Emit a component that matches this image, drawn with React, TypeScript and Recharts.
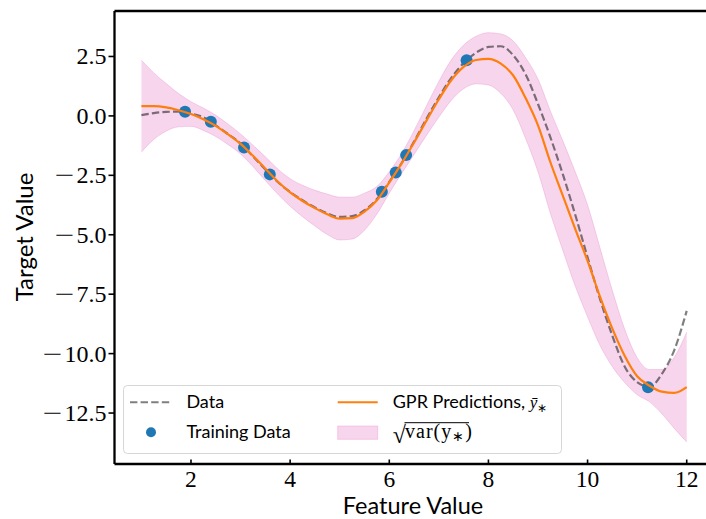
import React from "react";
import { ComposedChart, XAxis, YAxis, Area, Line, Scatter, Legend, ReferenceLine } from "recharts";

// sample grid for the curves
const featureX = [
  1, 1.25, 1.5, 1.75, 2, 2.25, 2.5, 2.75, 3, 3.25, 3.5, 3.75, 4, 4.25, 4.5,
  4.75, 5, 5.25, 5.5, 5.75, 6, 6.25, 6.5, 6.75, 7, 7.25, 7.5, 7.75, 8, 8.25,
  8.5, 8.75, 9, 9.25, 9.5, 9.75, 10, 10.25, 10.5, 10.75, 11, 11.25, 11.5,
  11.75, 12,
];

// underlying function ("Data")
const dataCurve = [
  0.03, 0.12, 0.17, 0.18, 0.1, -0.06, -0.4, -0.77, -1.16, -1.7, -2.25, -2.78,
  -3.2, -3.55, -3.85, -4.1, -4.25, -4.22, -3.97, -3.5, -2.78, -1.98, -1.08,
  -0.12, 0.78, 1.6, 2.22, 2.66, 2.9, 2.93, 2.55, 1.75, 0.5, -0.9, -2.45, -4.15,
  -5.95, -7.7, -9.25, -10.55, -11.2, -11.4, -10.85, -9.85, -8.2,
];

// GPR posterior mean
const gprMean = [
  0.41, 0.41, 0.36, 0.24, 0.08, -0.14, -0.42, -0.78, -1.18, -1.68, -2.22,
  -2.76, -3.22, -3.58, -3.88, -4.14, -4.32, -4.3, -4.03, -3.55, -2.8, -2.0,
  -1.12, -0.2, 0.7, 1.5, 2.06, 2.35, 2.4, 2.2, 1.7, 0.75, -0.4, -1.95, -3.35,
  -4.75, -6.1, -7.6, -8.95, -10.1, -10.95, -11.35, -11.6, -11.65, -11.41,
];

// half width of the shaded band
const gprStd = [
  1.93, 1.4, 1.0, 0.7, 0.52, 0.47, 0.45, 0.43, 0.42, 0.45, 0.5, 0.53, 0.58,
  0.66, 0.75, 0.85, 0.9, 0.88, 0.78, 0.58, 0.45, 0.42, 0.5, 0.62, 0.75, 0.85,
  0.92, 1.0, 1.1, 1.25, 1.45, 1.7, 1.95, 2.15, 2.3, 2.4, 2.35, 2.05, 1.6, 1.12,
  0.78, 0.68, 0.93, 1.5, 2.31,
];

const trainX = [1.88, 2.4, 3.07, 3.59, 5.85, 6.13, 6.34, 7.56, 11.22];
const trainY = [0.17, -0.25, -1.33, -2.46, -3.19, -2.38, -1.65, 2.34, -11.42];

const xTicks = [2, 4, 6, 8, 10, 12];
const yTicks = [-12.5, -10, -7.5, -5, -2.5, 0, 2.5];

const rows = featureX.map((x, i) => ({
  x,
  data: dataCurve[i],
  mean: gprMean[i],
  band: [gprMean[i] - gprStd[i], gprMean[i] + gprStd[i]],
}));

const training = trainX.map((x, i) => ({ x, y: trainY[i] }));

const X_DOMAIN = [0.457, 12.389];
const Y_DOMAIN = [-14.644, 4.413];

const BLUE = "#1f77b4";
const ORANGE = "#ff7f0e";
const PINK = "#e377c2";
const SERIF = "'Liberation Serif', serif";
const SANS = "Lato, 'DejaVu Sans', sans-serif";

const YTick = (props: any) => {
  const { x, y, payload } = props;
  const v: number = payload.value;
  const body = Math.abs(v).toFixed(1);
  const bodyW = (body.length - 1) * 12 + 6;
  return (
    <g>
      <text x={x} y={y + 8} textAnchor="end" fontFamily={SERIF} fontSize={24} fill="#000">
        {body}
      </text>
      {v < 0 && (
        <text
          transform={`translate(${x - bodyW - 2},${y + 8}) scale(1.45,1)`}
          textAnchor="end"
          fontFamily={SERIF}
          fontSize={24}
          fill="#000"
        >
          −
        </text>
      )}
    </g>
  );
};

const XTick = (props: any) => {
  const { x, y, payload } = props;
  return (
    <g>
      <line x1={x} x2={x} y1={y} y2={y - 4.5} stroke="#000" strokeWidth={1.6} />
      <text x={x} y={y + 22.5} textAnchor="middle" fontFamily={SERIF} fontSize={23.5} fill="#000">
        {payload.value}
      </text>
    </g>
  );
};

const LegendBox = () => (
  <svg width={440} height={70} style={{ display: "block" }}>
    <rect x={0.5} y={0.5} width={438} height={68} rx={4} fill="#fff" fillOpacity={0.8} stroke="#d6d6d6" />
    {/* Data */}
    <line x1={7} x2={47} y1={17.3} y2={17.3} stroke="#000" strokeOpacity={0.5} strokeWidth={2} strokeDasharray="7.4 3.2" />
    <text x={63.4} y={22.8} fontFamily={SANS} fontSize={18} fill="#000">Data</text>
    {/* Training Data */}
    <circle cx={28} cy={47.3} r={5} fill={BLUE} />
    <text x={63.4} y={52.8} fontFamily={SANS} fontSize={18} fill="#000">Training Data</text>
    {/* GPR mean */}
    <line x1={214.7} x2={254.7} y1={17.3} y2={17.3} stroke={ORANGE} strokeWidth={2} />
    <text x={269.7} y={22.8} fontFamily={SANS} fontSize={18} fill="#000">
      GPR Predictions,{" "}
      <tspan fontFamily={SERIF} fontStyle="italic" fontSize={17}>ȳ</tspan>
      <tspan fontFamily={SERIF} fontSize={12} dy={4}>∗</tspan>
    </text>
    {/* band */}
    <rect x={214.7} y={41} width={40} height={13.3} fill={PINK} fillOpacity={0.3} stroke={PINK} strokeOpacity={0.3} />
    <text x={269.7} y={58} fontFamily={SERIF} fontSize={24} fill="#000">√</text>
    <line x1={281.5} x2={346} y1={37.7} y2={37.7} stroke="#000" strokeWidth={1} />
    <text x={282} y={53} fontFamily={SERIF} fontSize={20} letterSpacing={1} fill="#000">
      var(y<tspan fontSize={14} dy={3}>∗</tspan>
      <tspan dy={-3}>)</tspan>
    </text>
  </svg>
);

export default function App() {
  return (
    <div style={{ position: "absolute", left: 0, top: 0, width: 706, height: 519, background: "#fff", overflow: "hidden" }}>
      <ComposedChart width={706} height={519} data={rows} margin={{ top: 11, right: 0, bottom: 0, left: 0 }}>
        <XAxis
          dataKey="x"
          type="number"
          domain={X_DOMAIN}
          allowDataOverflow
          ticks={xTicks}
          height={55}
          tickSize={0}
          tickMargin={0}
          tickLine={false}
          tick={(p: any) => <XTick {...p} />}
          axisLine={{ stroke: "#000", strokeWidth: 2.3 }}
          label={{
            value: "Feature Value",
            content: () => (
              <text x={413} y={513.5} textAnchor="middle" fontFamily={SANS} fontSize={23.5} fill="#000">
                Feature Value
              </text>
            ),
          }}
        />
        <YAxis
          type="number"
          domain={Y_DOMAIN}
          allowDataOverflow
          ticks={yTicks}
          width={114.5}
          tickSize={6}
          tickMargin={2}
          tickLine={{ stroke: "#000", strokeWidth: 1.6 }}
          tick={(p: any) => <YTick {...p} />}
          axisLine={{ stroke: "#000", strokeWidth: 2.3 }}
          label={{
            value: "Target Value",
            content: () => (
              <text transform="translate(33,237) rotate(-90)" textAnchor="middle" fontFamily={SANS} fontSize={24} fill="#000">
                Target Value
              </text>
            ),
          }}
        />
        {/* top frame edge */}
        <ReferenceLine y={Y_DOMAIN[1]} stroke="#000" strokeWidth={2.3} />
        <Area
          dataKey="band"
          type="monotone"
          fill={PINK}
          fillOpacity={0.3}
          stroke={PINK}
          strokeOpacity={0.3}
          strokeWidth={1}
          isAnimationActive={false}
          zIndex={100}
        />
        <Line
          dataKey="data"
          type="monotone"
          stroke="#000"
          strokeOpacity={0.5}
          strokeWidth={2.2}
          strokeDasharray="7.4 3.2"
          dot={false}
          activeDot={false}
          isAnimationActive={false}
          zIndex={400}
        />
        <Scatter
          data={training}
          dataKey="y"
          isAnimationActive={false}
          shape={(p: any) => <circle cx={p.cx} cy={p.cy} r={6} fill={BLUE} />}
          zIndex={450}
        />
        <Line
          dataKey="mean"
          type="monotone"
          stroke={ORANGE}
          strokeWidth={2.2}
          dot={false}
          activeDot={false}
          isAnimationActive={false}
          zIndex={500}
        />
        <Legend
          layout="vertical"
          align="center"
          verticalAlign="middle"
          wrapperStyle={{ left: 123, top: 385, width: 440, height: 70 }}
          content={() => <LegendBox />}
        />
      </ComposedChart>
    </div>
  );
}
